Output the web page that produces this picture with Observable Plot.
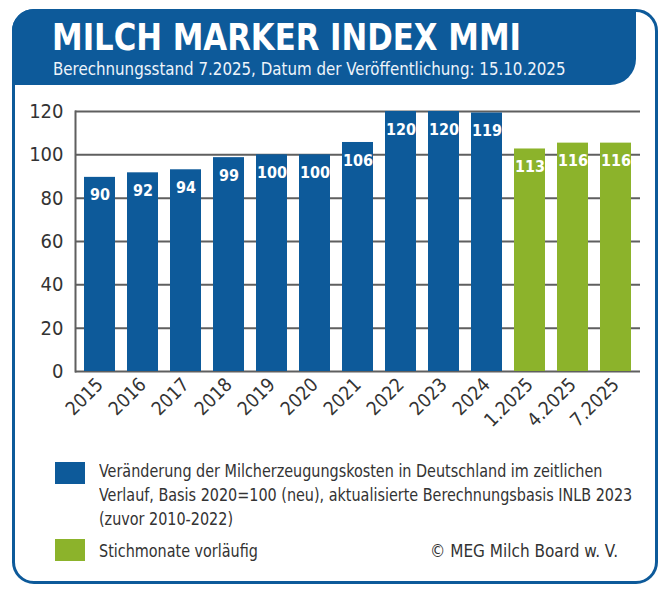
<!DOCTYPE html>
<html>
<head>
<meta charset="utf-8">
<script src="https://cdn.jsdelivr.net/npm/d3@7"></script>
<script src="https://cdn.jsdelivr.net/npm/@observablehq/plot@0.6"></script>
<style>
  html, body { margin: 0; padding: 0; background: #fff; }
  #page { position: relative; width: 671px; height: 600px; overflow: hidden;
          font-family: 'Liberation Sans Narrow','DejaVu Sans Condensed','Roboto Condensed','Arial Narrow',sans-serif; }
  #card { position: absolute; left: 12px; top: 9px; width: 646px; height: 575px; box-sizing: border-box;
          border: 3px solid #0d5a9a; border-radius: 22px; }
  #header { position: absolute; left: 12px; top: 9px; width: 624px; height: 76px; background: #0d5a9a;
            border-radius: 22px 0 26px 0; }
  #title { position: absolute; left: 52px; top: 18px; color: #fff; font-weight: bold; font-size: 38px; line-height: 1;
           white-space: nowrap; transform: scaleX(0.9); transform-origin: left center; }
  #subtitle { position: absolute; left: 53px; top: 60px; color: #eef4fa; font-size: 18px; line-height: 1;
              white-space: nowrap; transform: scaleX(0.93); transform-origin: left center; }
  #chart { position: absolute; left: 0; top: 90px; }
  .sw { position: absolute; width: 30px; height: 22px; }
  .lt { position: absolute; color: #333; font-size: 17px; line-height: 24px; white-space: nowrap;
        transform: scaleX(0.94); transform-origin: left top; }
  #credit { transform: none; }
</style>
</head>
<body>
<div id="page">
  <div id="card"></div>
  <div id="header"></div>
  <div id="title"></div>
  <div id="subtitle"></div>
  <div id="chart"></div>
  <div class="sw" id="sw1"></div>
  <div class="lt" id="lt1"></div>
  <div class="sw" id="sw2"></div>
  <div class="lt" id="lt2"></div>
  <div class="lt" id="credit"></div>
</div>
<script>
const titleText = "MILCH MARKER INDEX MMI";
const subtitleText = "Berechnungsstand 7.2025, Datum der Veröffentlichung: 15.10.2025";
const categories = ["2015","2016","2017","2018","2019","2020","2021","2022","2023","2024","1.2025","4.2025","7.2025"];
const labels = [90, 92, 94, 99, 100, 100, 106, 120, 120, 119, 113, 116, 116];
const barHeights = [89.6, 91.7, 93.1, 98.7, 100, 100, 105.7, 120, 120, 119.3, 102.7, 105.4, 105.4];
const preliminary = [false,false,false,false,false,false,false,false,false,false,true,true,true];
const yTicks = [0, 20, 40, 60, 80, 100, 120];
const legendMain = ["Veränderung der Milcherzeugungskosten in Deutschland im zeitlichen",
                    "Verlauf, Basis 2020=100 (neu), aktualisierte Berechnungsbasis INLB 2023",
                    "(zuvor 2010-2022)"];
const legendPrelim = "Stichmonate vorläufig";
const creditText = "© MEG Milch Board w. V.";
const BLUE = "#0d5a9a", GREEN = "#8cb32b";
const FONT = "'Liberation Sans Narrow','DejaVu Sans Condensed','Roboto Condensed','Arial Narrow',sans-serif";

const data = categories.map((c, i) => ({cat: c, h: barHeights[i], label: labels[i], prelim: preliminary[i]}));

document.getElementById("title").textContent = titleText;
document.getElementById("subtitle").textContent = subtitleText;

const chart = Plot.plot({
  width: 671,
  height: 360,
  marginTop: 21,
  marginBottom: 79,
  marginLeft: 75,
  marginRight: 31,
  style: {fontFamily: FONT, background: "transparent", overflow: "visible"},
  x: {domain: categories, paddingInner: 0.29, paddingOuter: 0.155, label: null},
  y: {domain: [0, 120], label: null},
  marks: [
    Plot.ruleY(yTicks, {stroke: "#5f5f5f", strokeWidth: 2}),
    Plot.frame({anchor: "left", stroke: "#5f5f5f", strokeWidth: 2}),
    Plot.barY(data, {x: "cat", y: "h", fill: d => d.prelim ? GREEN : BLUE}),
    Plot.text(data, {x: "cat", y: "h", text: d => String(d.label), dy: 18, fill: "#fff",
                     fontWeight: "bold", fontSize: 16}),
    Plot.axisY(yTicks, {tickSize: 0, tickPadding: 12, fontSize: 20, fill: "#333"}),
    Plot.axisX({tickSize: 0, tickPadding: 10, tickRotate: -45, fontSize: 19, fill: "#333"})
  ]
});
document.getElementById("chart").appendChild(chart);

const sw1 = document.getElementById("sw1");
sw1.style.cssText += `left:55px;top:462px;background:${BLUE};`;
const lt1 = document.getElementById("lt1");
lt1.style.cssText += "left:99px;top:459px;";
lt1.innerHTML = legendMain.join("<br>");
const sw2 = document.getElementById("sw2");
sw2.style.cssText += `left:55px;top:539px;background:${GREEN};`;
const lt2 = document.getElementById("lt2");
lt2.style.cssText += "left:99px;top:539px;";
lt2.textContent = legendPrelim;
const credit = document.getElementById("credit");
credit.style.cssText += "right:53px;top:539px;";
credit.textContent = creditText;
</script>
</body>
</html>
